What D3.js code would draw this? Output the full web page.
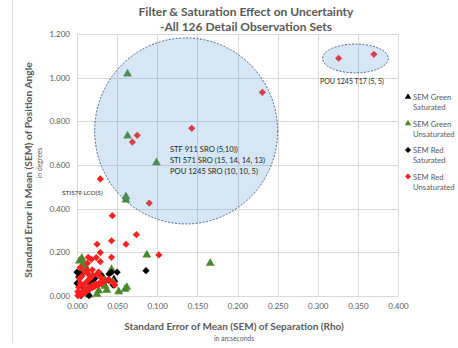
<!DOCTYPE html>
<html><head><meta charset="utf-8">
<script src="https://cdn.jsdelivr.net/npm/d3@7"></script>
<style>body{margin:0;background:#fff}svg{display:block}text{font-family:Lato,"Open Sans",sans-serif}</style>
</head><body><svg id="c" width="458" height="348"></svg>
<script>
// ---- data (SEM Rho in arcsec, SEM PA in degrees) ----
const greenSatX = [0.003, 0.046, 0.018];
const greenSatY = [0.095, 0.075, 0.062];
const greenUnsatX = [0.063,0.063,0.099,0.061,0.061,0.087,0.166,0.006,0.006,0.013,0.043,0.020,0.032,0.045,0.060,0.062,0.037,0.027,0.025,0.010,0.003,0.008,0.015,0.035,0.052];
const greenUnsatY = [1.017,0.733,0.611,0.455,0.440,0.188,0.150,0.173,0.122,0.111,0.122,0.088,0.088,0.066,0.031,0.040,0.027,0.024,0.008,0.140,0.160,0.150,0.005,0.045,0.020];
const redSatX = [0.000,0.005,0.043,0.050,0.086,0.039,0.000,0.006,0.045,0.040,0.014,0.015,0.005,0.022,0.030];
const redSatY = [0.109,0.099,0.109,0.109,0.116,0.073,0.058,0.047,0.050,0.101,0.070,0.002,0.002,0.080,0.095];
const redUnsatX = [0.001,0.002,0.003,0.004,0.005,0.006,0.007,0.008,0.009,0.010,0.011,0.012,0.013,0.014,0.015,0.016,0.018,0.019,0.020,0.022,0.024,0.026,0.028,0.030,0.033,0.036,0.002,0.004,0.003,0.006,0.001,0.008,0.012,0.016,0.020,0.025,0.030,0.040,0.045,0.010,0.014,0.027,0.019,0.004,
  0.013,0.029,0.018,0.014,0.024,0.043,0.102,0.029,0.025,0.061,0.043,0.074,0.044,0.090,0.029,0.069,0.075,0.143,0.231,0.326,0.370,0.047,0.012];
const redUnsatY = [0.002,0.005,0.010,0.003,0.015,0.008,0.020,0.012,0.025,0.018,0.030,0.022,0.035,0.028,0.040,0.033,0.045,0.038,0.050,0.043,0.055,0.048,0.060,0.055,0.065,0.070,0.040,0.060,0.080,0.090,0.020,0.050,0.065,0.080,0.095,0.100,0.085,0.075,0.060,0.110,0.100,0.110,0.120,0.130,
  0.150,0.157,0.168,0.177,0.176,0.177,0.188,0.199,0.237,0.237,0.253,0.281,0.368,0.425,0.536,0.705,0.736,0.768,0.933,1.089,1.107,0.050,0.120];
const xTicks = [0,0.05,0.1,0.15,0.2,0.25,0.3,0.35,0.4];
const yTicks = [0,0.2,0.4,0.6,0.8,1.0,1.2];
const titleLines = ["Filter & Saturation Effect on Uncertainty","-All 126 Detail Observation Sets"];
const xTitle = "Standard Error of Mean (SEM) of Separation (Rho)";
const xSub = "in arcseconds";
const yTitle = "Standard  Error in Mean (SEM) of Position Angle";
const ySub = "in degrees";
const legendNames = [["SEM Green","Saturated"],["SEM Green","Unsaturated"],["SEM Red","Saturated"],["SEM Red","Unsaturated"]];
// annotation ellipses: [cx, cy, rx, ry] in data units
const bigEllipse = [0.136, 0.756, 0.114, 0.426];
const smallEllipse = [0.347, 1.088, 0.041, 0.066];
const bigLabels = ["STF 911 SRO (5,10))","STI 571 SRO (15, 14, 14, 13)","POU 1245 SRO (10, 10, 5)"];
const smallLabel = "POU 1245 T17 (5, 5)";
const sideLabel = "STI579 LCO(5)";

const svg = d3.select("#c");
const L=77,R=398,T=34,B=296;
const x = d3.scaleLinear().domain([0,0.4]).range([L,R]);
const y = d3.scaleLinear().domain([0,1.2]).range([B,T]);
const grey="#595959";

// chart border
svg.append("line").attr("x1",12.5).attr("x2",12.5).attr("y1",0).attr("y2",343).attr("stroke","#d9d9d9");

// grid
svg.append("g").selectAll("line").data(xTicks).join("line")
  .attr("x1",d=>Math.round(x(d))+0.5).attr("x2",d=>Math.round(x(d))+0.5).attr("y1",T).attr("y2",B).attr("stroke","#d9d9d9");
svg.append("g").selectAll("line").data(yTicks).join("line")
  .attr("y1",d=>Math.round(y(d))+0.5).attr("y2",d=>Math.round(y(d))+0.5).attr("x1",L).attr("x2",R).attr("stroke","#d9d9d9");

// axes (labels only)
const xa = svg.append("g").attr("transform",`translate(0,${B})`).call(d3.axisBottom(x).tickValues(xTicks).tickFormat(d3.format(".3f")).tickSize(0).tickPadding(7));
const ya = svg.append("g").attr("transform",`translate(${L},0)`).call(d3.axisLeft(y).tickValues(yTicks).tickFormat(d3.format(".3f")).tickSize(0).tickPadding(7));
[xa,ya].forEach(a=>{a.select(".domain").remove();a.selectAll("text").attr("fill",grey).style("font-size","8px").style("font-family","Lato");});

// markers (series order as in the legend; later series on top)
const tri = d3.symbol().type(d3.symbolTriangle).size(34);
const dia = d3.symbol().type(d3.symbolSquare).size(26);
function series(xs,ys,sym,color,rot){
  svg.append("g").selectAll("path").data(xs.map((v,i)=>[v,ys[i]])).join("path")
    .attr("d",sym).attr("fill",color)
    .attr("transform",d=>`translate(${x(d[0])},${y(d[1])})${rot?" rotate(45)":""}`);
}
series(greenSatX,greenSatY,tri,"#000",false);
series(greenUnsatX,greenUnsatY,tri,"#4a8a2a",false);
series(redSatX,redSatY,dia,"#000",true);
series(redUnsatX,redUnsatY,dia,"#ff1f1f",true);

// ellipses (on top, translucent)
[bigEllipse,smallEllipse].forEach(e=>{
  svg.append("ellipse").attr("cx",x(e[0])).attr("cy",y(e[1]))
    .attr("rx",x(e[2])-x(0)).attr("ry",y(0)-y(e[3]))
    .attr("fill","rgba(91,155,213,0.25)").attr("stroke","#2f5597").attr("stroke-width",0.9).attr("stroke-dasharray","2,1.5");
});

// annotations
svg.append("g").selectAll("text").data(bigLabels).join("text")
  .attr("x",170).attr("y",(d,i)=>152+i*11).text(d=>d).attr("fill","#262626").style("font-size","7.6px");
svg.append("text").attr("x",320).attr("y",84).text(smallLabel).attr("fill","#262626").style("font-size","7px");
svg.append("text").attr("x",62).attr("y",195).text(sideLabel).attr("fill","#262626").style("font-size","6.3px");

// title
svg.append("g").selectAll("text").data(titleLines).join("text")
  .attr("x",246).attr("y",(d,i)=>16+i*15).attr("text-anchor","middle").text(d=>d)
  .attr("fill",grey).style("font-size","12px").style("font-weight","bold");

// axis titles
svg.append("text").attr("x",234).attr("y",330).attr("text-anchor","middle").text(xTitle).attr("fill",grey).style("font-size","10px").style("font-weight","bold");
svg.append("text").attr("x",234).attr("y",341).attr("text-anchor","middle").text(xSub).attr("fill",grey).style("font-size","6.8px");
svg.append("text").attr("transform",`translate(32,170) rotate(-90)`).attr("text-anchor","middle").text(yTitle).attr("fill",grey).style("font-size","10.3px").style("font-weight","bold");
svg.append("text").attr("transform",`translate(42,163) rotate(-90)`).attr("text-anchor","middle").text(ySub).attr("fill",grey).style("font-size","6.8px");

// legend
const legSyms=[[tri,"#000",false],[tri,"#4a8a2a",false],[dia,"#000",true],[dia,"#ff1f1f",true]];
const leg = svg.append("g").selectAll("g").data(legendNames).join("g")
  .attr("transform",(d,i)=>`translate(408,${97+i*26.5})`);
leg.append("path").attr("d",(d,i)=>legSyms[i][0].size(18)()).attr("fill",(d,i)=>legSyms[i][1])
  .attr("transform",(d,i)=>legSyms[i][2]?"rotate(45)":null);
leg.append("text").attr("x",5).attr("y",3).text(d=>d[0]).attr("fill",grey).style("font-size","7.7px");
leg.append("text").attr("x",5).attr("y",13).text(d=>d[1]).attr("fill",grey).style("font-size","7.7px");
</script></body></html>
